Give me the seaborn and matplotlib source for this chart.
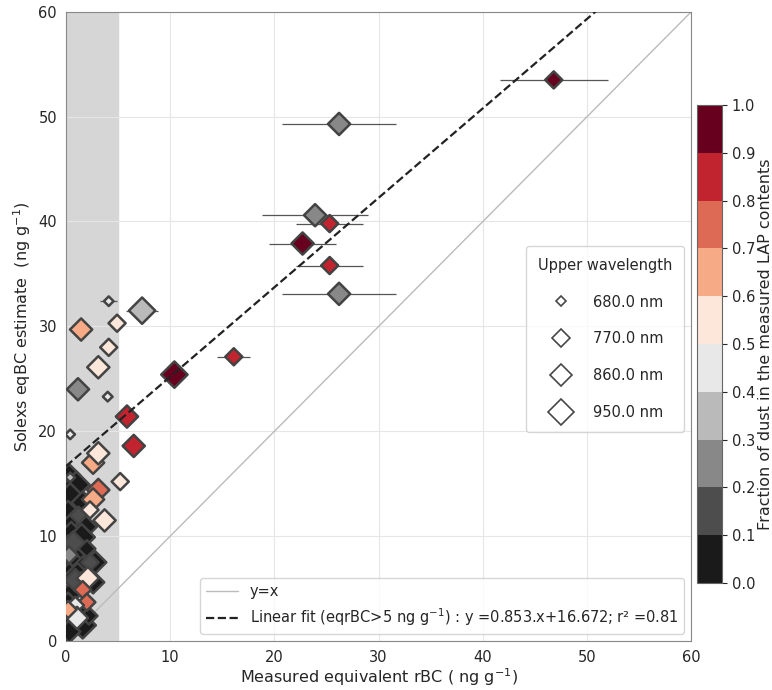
# Solexs eqBC estimate vs measured rBC, coloured by dust fraction,
# marker size = upper wavelength used in the retrieval.

import numpy as np
import pandas as pd
import matplotlib
matplotlib.use("Agg")
import matplotlib.pyplot as plt
from matplotlib.colors import ListedColormap, Normalize
from matplotlib.lines import Line2D
import seaborn as sns


# 1. Data
# measured equivalent rBC (ng/g)
x_meas = [46.8, 26.2, 23.9, 25.3, 22.7, 25.3, 26.2, 16.1, 10.4, 5.85,
          6.5, 7.3, 4.1, 1.45, 4.9, 4.1, 3.1, 1.15, 4.0, 0.4,
          0.3, 1.0, 0.4, 1.6, 0.2, 0.9, 1.9, 0.5, 1.5, 0.2,
          1.3, 2.0, 0.6, 1.6, 2.8, 0.3, 1.1, 2.6, 0.5, 1.4,
          0.2, 1.4, 0.4, 1.6, 2.2, 0.3,
          0.7, 2.3, 0.9, 0.3, 1.2, 0.4,
          5.2, 2.6, 3.1, 3.1, 2.6, 2.3, 3.7, 2.1, 1.6, 2.0,
          0.9, 1.05, 0.2]
# Solexs eqBC estimate (ng/g)
y_est = [53.5, 49.3, 40.6, 39.8, 37.9, 35.8, 33.1, 27.1, 25.4, 21.4,
         18.6, 31.5, 32.4, 29.7, 30.3, 28.0, 26.1, 24.0, 23.3, 19.7,
         15.8, 14.9, 13.8, 13.2, 12.3, 11.3, 10.9, 10.3, 9.9, 9.0,
         8.7, 8.8, 7.4, 7.0, 7.5, 6.4, 6.2, 5.6, 4.6, 5.5,
         3.8, 2.8, 2.0, 1.5, 2.4, 0.9,
         9.4, 7.5, 5.8, 8.2, 12.0, 15.6,
         15.2, 17.0, 17.9, 14.4, 13.5, 12.5, 11.5, 6.0, 4.9, 3.7,
         3.4, 2.2, 3.0]
# fraction of dust in the measured LAP contents
dust = [0.95, 0.25, 0.25, 0.85, 0.95, 0.85, 0.25, 0.85, 0.95, 0.85,
        0.85, 0.35, 0.45, 0.65, 0.55, 0.55, 0.55, 0.25, 0.45, 0.45,
        0.05, 0.05, 0.05, 0.05, 0.05, 0.05, 0.05, 0.05, 0.05, 0.05,
        0.05, 0.05, 0.05, 0.05, 0.05, 0.05, 0.05, 0.05, 0.05, 0.05,
        0.05, 0.05, 0.05, 0.05, 0.05, 0.05,
        0.15, 0.15, 0.15, 0.25, 0.15, 0.35,
        0.55, 0.65, 0.55, 0.75, 0.65, 0.55, 0.55, 0.55, 0.75, 0.75,
        0.45, 0.45, 0.65]
# upper wavelength (nm)
wavelength = [770, 860, 860, 770, 860, 770, 860, 770, 950, 860,
              860, 950, 680, 860, 770, 770, 860, 860, 680, 680,
              860, 950, 950, 860, 860, 950, 860, 860, 950, 860,
              860, 770, 950, 860, 860, 860, 950, 860, 860, 860,
              770, 860, 860, 950, 770, 860,
              860, 770, 860, 770, 770, 680,
              770, 860, 860, 860, 860, 770, 860, 860, 770, 770,
              770, 860, 770]
# horizontal error on measured rBC (0 = no bar)
x_err = [5.2, 5.5, 5.1, 3.2, 3.2, 3.2, 5.5, 1.6, 0, 0,
         0, 1.5, 0.8, 0, 0, 0, 0, 0, 0.5, 0,
         0, 0, 0, 0, 0, 0, 0, 0, 0, 0,
         0, 0, 0, 0, 0, 0, 0, 0, 0, 0,
         0, 0, 0, 0, 0, 0,
         0, 0, 0, 0, 0, 0,
         0, 0, 0, 0, 0, 0, 0, 0, 0, 0,
         0, 0, 0]

legend_wl = [680.0, 770.0, 860.0, 950.0]
cbar_ticks = [0.0, 0.1, 0.2, 0.3, 0.4, 0.5, 0.6, 0.7, 0.8, 0.9, 1.0]
fit_slope = 0.853
fit_intercept = 16.672
fit_r2 = 0.81

df = pd.DataFrame({"x": x_meas, "y": y_est, "dust": dust,
                   "wl": wavelength, "xerr": x_err})

# 10 discrete steps, black -> white -> dark red (like RdGy_r)
cmap = ListedColormap(["#1a1a1a", "#4d4d4d", "#888888", "#bababa", "#e8e8e8",
                       "#fde6da", "#f6aa86", "#dd6a55", "#c1232f", "#67001f"])
norm = Normalize(0, 1)
size_range = (24, 180)


# 2. Plot
sns.set_style("white")
fig = plt.figure(figsize=(7.72, 6.9), dpi=100)
ax = fig.add_axes([0.0855, 0.071, 0.81, 0.912])

ax.axvspan(0, 5, color="#d6d6d6", zorder=0)
ax.grid(True, color="#e6e6e6", linewidth=0.8, zorder=0.5)
ax.set_axisbelow(True)

line_xx = np.array([0, 60])
ax.plot(line_xx, line_xx, color="#bbbbbb", linewidth=1, zorder=1, label="y=x")
ax.plot(line_xx, fit_slope * line_xx + fit_intercept, "--", color="#222222",
        linewidth=1.6, zorder=4,
        label=f"Linear fit (eqrBC>5 ng g$^{{-1}}$) : y ={fit_slope}.x+{fit_intercept}; "
              f"r² ={fit_r2}")

bars = df[df["xerr"] > 0]
ax.errorbar(bars["x"], bars["y"], xerr=bars["xerr"], fmt="none",
            ecolor="#555555", elinewidth=0.9, zorder=2)

sns.scatterplot(data=df, x="x", y="y", hue="dust", palette=cmap, hue_norm=norm,
                size="wl", sizes=size_range, size_norm=(680, 950),
                marker="D", edgecolor="#434343", linewidth=1.8,
                legend=False, zorder=3, ax=ax)

ax.set_xlim(0, 60)
ax.set_ylim(0, 60)
ax.set_xticks([0, 10, 20, 30, 40, 50, 60])
ax.set_yticks([0, 10, 20, 30, 40, 50, 60])
ax.tick_params(labelsize=10.5, length=3, color="#555555")
for s in ax.spines.values():
    s.set_color("#888888")
ax.set_xlabel("Measured equivalent rBC ( ng g$^{-1}$)", fontsize=11.5, labelpad=1)
ax.set_ylabel("Solexs eqBC estimate  (ng g$^{-1}$)", fontsize=11.5)

# legend for the two lines, bottom right
leg_lines = ax.legend(loc="lower right", fontsize=10.5, handlelength=2.2)
ax.add_artist(leg_lines)

# legend for marker sizes (wavelength)
handles = []
for w in legend_wl:
    s = size_range[0] + (w - 680) / (950 - 680) * (size_range[1] - size_range[0])
    handles.append(Line2D([], [], marker="D", linestyle="", markersize=np.sqrt(s),
                          markerfacecolor="white", markeredgecolor="#474747",
                          markeredgewidth=1.2, label=f"{w} nm"))
ax.legend(handles=handles, title="Upper wavelength", loc="center right",
          bbox_to_anchor=(1.0, 0.48), fontsize=10.5, title_fontsize=10.5,
          labelspacing=1.5, borderpad=0.8, handletextpad=1.2)

# colorbar
cax = fig.add_axes([0.903, 0.155, 0.032, 0.693])
sm = plt.cm.ScalarMappable(norm=norm, cmap=cmap)
cb = fig.colorbar(sm, cax=cax, ticks=cbar_ticks)
cb.set_label("Fraction of dust in the measured LAP contents", fontsize=11.5,
             labelpad=2)
cb.ax.tick_params(labelsize=10.5)
cb.outline.set_edgecolor("#666666")

fig.savefig("out.png", dpi=100)
